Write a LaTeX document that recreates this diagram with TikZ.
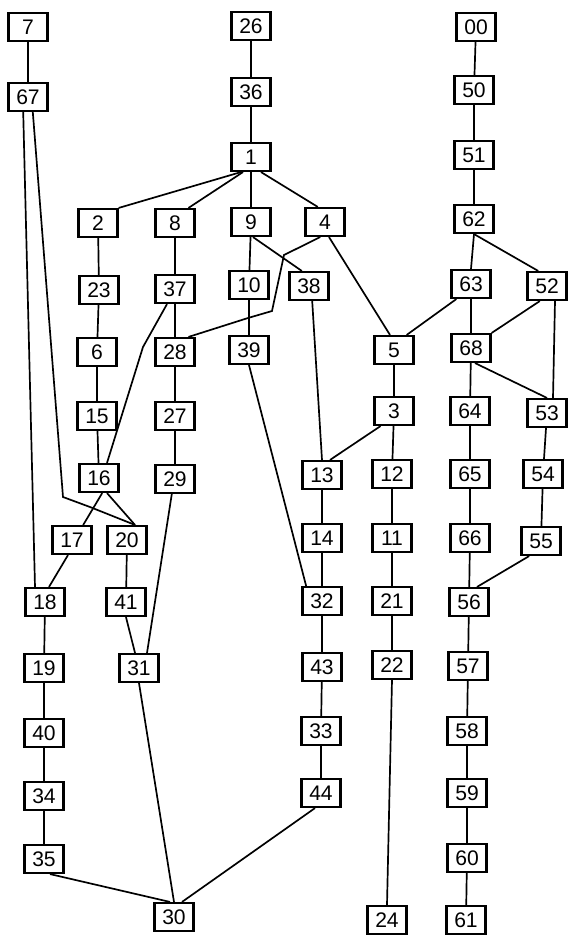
\documentclass[tikz,border=0pt]{standalone}
\usepackage{fontspec}
\setmainfont{Liberation Sans}

\begin{document}
\begin{tikzpicture}[
  x=0.025cm,y=-0.025cm,
  font=\fontsize{15}{17}\selectfont,
  box/.style={draw=black, line width=1.8pt, fill=white,
              minimum width=0.97cm, minimum height=0.69cm, inner sep=0pt},
  link/.style={draw=black, line width=1.2pt}
]
\useasboundingbox (0,0) rectangle (567,936);

% Left column: 7 and 67 hang apart from the rest.
\node[box] (n7)  at (28,27)  {7};
\node[box] (n67) at (28,97)  {67};

% Main trunk from 26 down to the fan-out at 1.
\node[box] (n26) at (251,26)  {26};
\node[box] (n36) at (251,92)  {36};
\node[box] (n1)  at (251,157) {1};
\node[box] (n2)  at (98,223)  {2};
\node[box] (n8)  at (175,223) {8};
\node[box] (n9)  at (251,222) {9};
\node[box] (n4)  at (325,222) {4};

\node[box] (n23) at (99,290)  {23};
\node[box] (n37) at (175,289) {37};
\node[box] (n10) at (249,285) {10};
\node[box] (n38) at (309,286) {38};
\node[box] (n6)  at (97,352)  {6};
\node[box] (n28) at (175,352) {28};
\node[box] (n39) at (249,350) {39};
\node[box] (n15) at (97,416)  {15};
\node[box] (n27) at (175,416) {27};
\node[box] (n16) at (99,478)  {16};
\node[box] (n29) at (175,479) {29};
\node[box] (n17) at (72,540)  {17};
\node[box] (n20) at (127,540) {20};
\node[box] (n18) at (45,602)  {18};
\node[box] (n41) at (126,602) {41};
\node[box] (n19) at (44,668)  {19};
\node[box] (n31) at (139,668) {31};
\node[box] (n40) at (44,733)  {40};
\node[box] (n34) at (44,796)  {34};
\node[box] (n35) at (44,859)  {35};
\node[box] (n30) at (174,917) {30};

% Middle columns.
\node[box] (n5)  at (394,350) {5};
\node[box] (n3)  at (394,411) {3};
\node[box] (n13) at (322,475) {13};
\node[box] (n12) at (392,474) {12};
\node[box] (n14) at (322,538) {14};
\node[box] (n11) at (392,538) {11};
\node[box] (n32) at (322,601) {32};
\node[box] (n21) at (392,601) {21};
\node[box] (n43) at (322,667) {43};
\node[box] (n22) at (392,665) {22};
\node[box] (n33) at (321,731) {33};
\node[box] (n44) at (321,793) {44};
\node[box] (n24) at (387,920) {24};

% Right columns from 00.
\node[box] (n00) at (476,27)  {00};
\node[box] (n50) at (474,90)  {50};
\node[box] (n51) at (474,155) {51};
\node[box] (n62) at (474,219) {62};
\node[box] (n63) at (471,284) {63};
\node[box] (n52) at (547,286) {52};
\node[box] (n68) at (471,348) {68};
\node[box] (n64) at (470,411) {64};
\node[box] (n53) at (547,413) {53};
\node[box] (n65) at (470,474) {65};
\node[box] (n54) at (543,474) {54};
\node[box] (n66) at (470,538) {66};
\node[box] (n55) at (541,541) {55};
\node[box] (n56) at (469,602) {56};
\node[box] (n57) at (468,666) {57};
\node[box] (n58) at (467,731) {58};
\node[box] (n59) at (467,793) {59};
\node[box] (n60) at (467,858) {60};
\node[box] (n61) at (466,920) {61};

% Bends of the crooked links.
\coordinate (j67)  at (63,497);
\coordinate (j67b) at (90,507);
\coordinate (j37)  at (143,347);
\coordinate (j4a)  at (284,255);
\coordinate (j4b)  at (272,311);
\coordinate (j4c)  at (248,318);

% Straight runs.
\draw[link] (n7) -- (n67);
\draw[link] (n26) -- (n36) -- (n1) -- (n9) -- (n10) -- (n39);
\draw[link] (n2) -- (n23) -- (n6) -- (n15) -- (n16);
\draw[link] (n8) -- (n37) -- (n28) -- (n27) -- (n29);
\draw[link] (n18) -- (n19) -- (n40) -- (n34) -- (n35);
\draw[link] (n20) -- (n41);
\draw[link] (n13) -- (n14) -- (n32) -- (n43) -- (n33) -- (n44);
\draw[link] (n5) -- (n3) -- (n12) -- (n11) -- (n21) -- (n22);
\draw[link] (n22.south) -- (n24.north);
\draw[link] (n00) -- (n50) -- (n51) -- (n62);
\draw[link] (n62.south) -- (n63.north);
\draw[link] (n63) -- (n68) -- (n64) -- (n65) -- (n66) -- (n56)
  -- (n57) -- (n58) -- (n59) -- (n60) -- (n61);
\draw[link] (n53) -- (n54) -- (n55);

% Fan-out below 1.
\draw[link] ([xshift=-2.5mm]n1.south) -- (n2.north east);
\draw[link] ([xshift=-2mm]n1.south) -- ([xshift=-1.8mm]n8.north east);
\draw[link] ([xshift=2.5mm]n1.south) -- ([xshift=-1.8mm]n4.north);
\draw[link] ([xshift=0.5mm]n9.south) -- ([xshift=-1.8mm]n38.north);
\draw[link] ([xshift=-1.2mm]n4.south) -- (j4a) -- (j4b) -- (j4c)
  -- ([xshift=-1.8mm]n28.north east);
\draw[link] ([xshift=0.1cm]n4.south) -- ([xshift=-1mm]n5.north);
\draw[link] ([xshift=0.8mm]n38.south) -- (n13.north);
\draw[link] (n39.south) -- ([xshift=1.2mm]n32.north west);
\draw[link] ([xshift=-2mm]n37.south) -- (j37) -- ([xshift=2mm]n16.north);

% Long drops from 67.
\draw[link] ([xshift=-1.2mm]n67.south) -- ([xshift=-2.5mm]n18.north);
\draw[link] ([xshift=1.2mm]n67.south) -- (j67) -- (j67b)
  -- ([xshift=2mm]n20.north);

% Around 16 and the sink 30.
\draw[link] ([xshift=0.8mm]n16.south) -- ([xshift=2.8mm]n17.north);
\draw[link] ([xshift=2mm]n16.south) -- ([xshift=2mm]n20.north);
\draw[link] ([xshift=-1mm]n17.south) -- ([xshift=0.1cm]n18.north);
\draw[link] ([xshift=-0.8mm]n29.south) -- ([xshift=2mm]n31.north);
\draw[link] (n41.south) -- ([xshift=-1mm]n31.north);
\draw[link] (n31.south) -- (n30.north);
\draw[link] ([xshift=1.5mm]n35.south) -- ([xshift=-1mm]n30.north);
\draw[link] ([xshift=-1.5mm]n44.south) -- ([xshift=2mm]n30.north);

% Cross links on the right.
\draw[link] ([xshift=1.5mm]n63.south west) -- ([xshift=-2mm]n5.north east);
\draw[link] (n62.south) -- ([xshift=-2.2mm]n52.north);
\draw[link] ([xshift=-1.8mm]n52.south) -- (n68.north east);
\draw[link] ([xshift=2mm]n52.south) -- ([xshift=1.5mm]n53.north);
\draw[link] ([xshift=1mm]n68.south) -- (n53.north);
\draw[link] ([xshift=1.8mm]n3.south west) -- ([xshift=2mm]n13.north);
\draw[link] ([xshift=2.2mm]n55.south west) -- ([xshift=2mm]n56.north);

\end{tikzpicture}
\end{document}
